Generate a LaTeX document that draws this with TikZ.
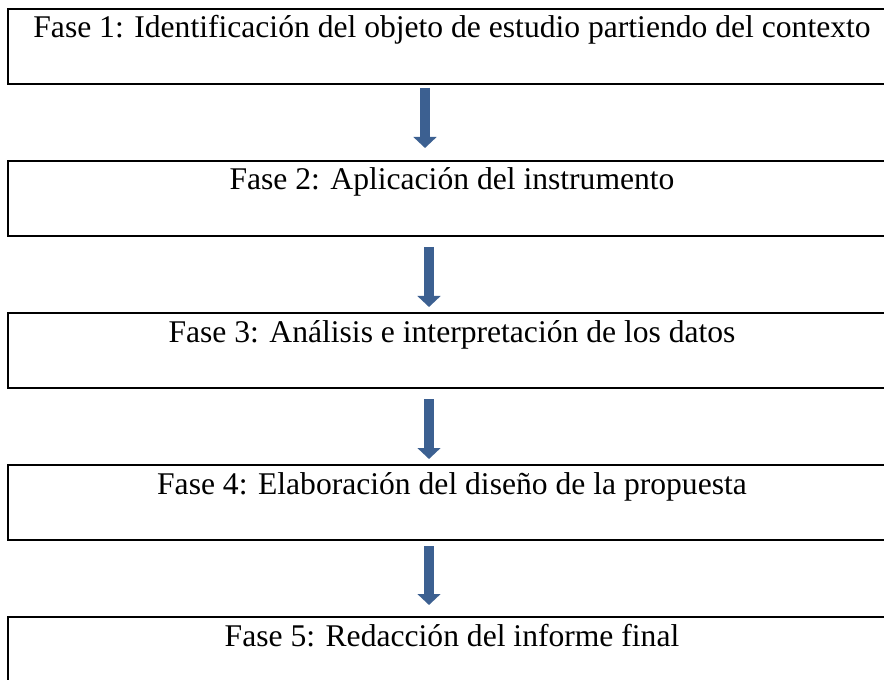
\documentclass[tikz,border=0pt]{standalone}
\usepackage{fontspec}
\setmainfont{Liberation Serif}
\usetikzlibrary{positioning,arrows.meta}
\definecolor{arrowblue}{RGB}{60,96,145}

\begin{document}
\begin{tikzpicture}[
    x=0.75pt, y=0.75pt,
    node distance=56.25pt,
    phasebox/.style={draw, line width=1.5pt, minimum width=666pt, inner xsep=0pt, inner ysep=0pt,
        text height=21.75pt, text depth=34.5pt, font=\fontsize{23.7pt}{28pt}\selectfont},
    flow/.style={draw=arrowblue, line width=7.5pt, -{Triangle[length=8.25pt, width=17pt]}},
]
\useasboundingbox (0,0) rectangle (884,679);

% ================== Phases ==================
\node[phasebox] (f1) at (452, 632.5) {Fase 1: Identificación del objeto de estudio partiendo del contexto};
\node[phasebox, below=of f1] (f2) {Fase 2: Aplicación del instrumento};
\node[phasebox, below=of f2] (f3) {Fase 3: Análisis e interpretación de los datos};
\node[phasebox, below=of f3] (f4) {Fase 4: Elaboración del diseño de la propuesta};
\node[phasebox, below=of f4] (f5) {Fase 5: Redacción del informe final};

% ================== Arrows ==================
\draw[flow, shorten <=2.25pt, shorten >=9pt] ([xshift=-20.25pt]f1.south) -- ([xshift=-20.25pt]f2.north);
\draw[flow, shorten <=7.5pt, shorten >=3.75pt] ([xshift=-17.25pt]f2.south) -- ([xshift=-17.25pt]f3.north);
\draw[flow, shorten <=7.5pt, shorten >=3.75pt] ([xshift=-17.25pt]f3.south) -- ([xshift=-17.25pt]f4.north);
\draw[flow, shorten <=3.75pt, shorten >=8.25pt] ([xshift=-17.25pt]f4.south) -- ([xshift=-17.25pt]f5.north);

\end{tikzpicture}
\end{document}
